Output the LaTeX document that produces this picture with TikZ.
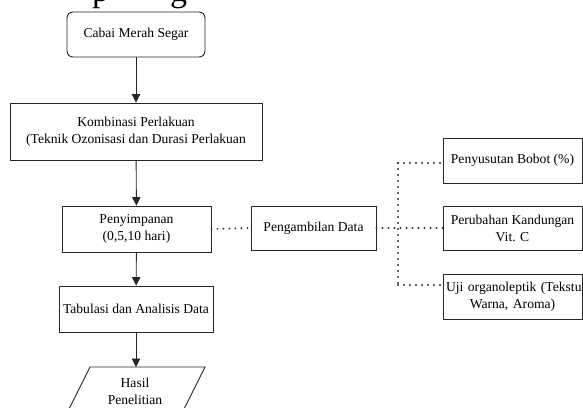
\documentclass[tikz,border=0pt]{standalone}
\usepackage{fontspec}
\setmainfont{Liberation Serif}
\usetikzlibrary{arrows.meta}
\begin{document}
\begin{tikzpicture}[x=1pt,y=-1pt,
  every node/.style={font=\fontsize{13.6}{17}\selectfont, text=black},
  boxst/.style={draw=black!85, line width=0.9pt, align=center, inner sep=2pt},
  arr/.style={draw=black!85, line width=0.9pt, -{Triangle[length=8.5pt,width=8.5pt]}},
  dots/.style={draw=black!80, line width=2.1pt, line cap=round, dash pattern=on 0pt off 6pt},
  bigtxt/.style={font=\fontsize{34}{34}\selectfont, inner sep=0pt, outer sep=0pt}]
\useasboundingbox (0,0) rectangle (583,407);
\clip (0,0) rectangle (583,407);
% partial caption text at top (only descenders visible)
\node[bigtxt, anchor=south west] (tp) at (92,8.5) {p};
\node[bigtxt, anchor=south west] (tg) at (170,8.5) {g};
% main column
\node[boxst, rounded corners=6pt, minimum width=138pt, minimum height=45pt] (cabai) at (136,34.5) {Cabai Merah Segar};
\node[boxst, minimum width=252pt, minimum height=57pt] (komb) at (136,131.5) {Kombinasi Perlakuan\\(Teknik Ozonisasi dan Durasi Perlakuan};
\node[boxst, minimum width=149pt, minimum height=46pt] (peny) at (136.5,229) {Penyimpanan\\(0,5,10 hari)};
\node[boxst, minimum width=154pt, minimum height=46pt] (tab) at (136,309) {Tabulasi dan Analisis Data};
% parallelogram output
\coordinate (htop) at (136,367);
\draw[draw=black!85, line width=0.9pt] (90,367) -- (205,367) -- (180,417) -- (65,417) -- cycle;
\node[align=center, inner sep=0pt] (hasil) at (135,391) {Hasil\\Penelitian};
% data branch
\node[boxst, minimum width=125pt, minimum height=44pt] (ambil) at (313.5,228) {Pengambilan Data};
\node[boxst, minimum width=139pt, minimum height=45pt] (b1) at (512.5,160.5) {Penyusutan Bobot (\%)};
\node[boxst, minimum width=139pt, minimum height=44pt] (b2) at (512.5,228) {Perubahan Kandungan\\Vit. C};
\node[draw=black!85, line width=0.9pt, align=center, inner xsep=2pt, inner ysep=2pt, text width=135pt, minimum height=45pt] (b3) at (512.5,296.5) {\mbox{\hspace{1pt}Uji organoleptik (Tekstur,}\\\mbox{Warna, Aroma)}};
% arrows
\draw[arr] (cabai) -- (komb);
\draw[arr] (komb) -- (peny);
\draw[arr] (peny) -- (tab);
\draw[arr] (tab) -- (htop);
% dotted connectors
\coordinate (jt) at (398,163);
\coordinate (jb) at (398,285);
\draw[dots] (peny.east) -- (ambil.west);
\draw[dots] (ambil.east) -- (b2.west);
\draw[dots] (jt) -- (jb);
\draw[dots] (jt) -- (jt -| b1.west);
\draw[dots] (jb) -- (jb -| b3.west);
\end{tikzpicture}
\end{document}
